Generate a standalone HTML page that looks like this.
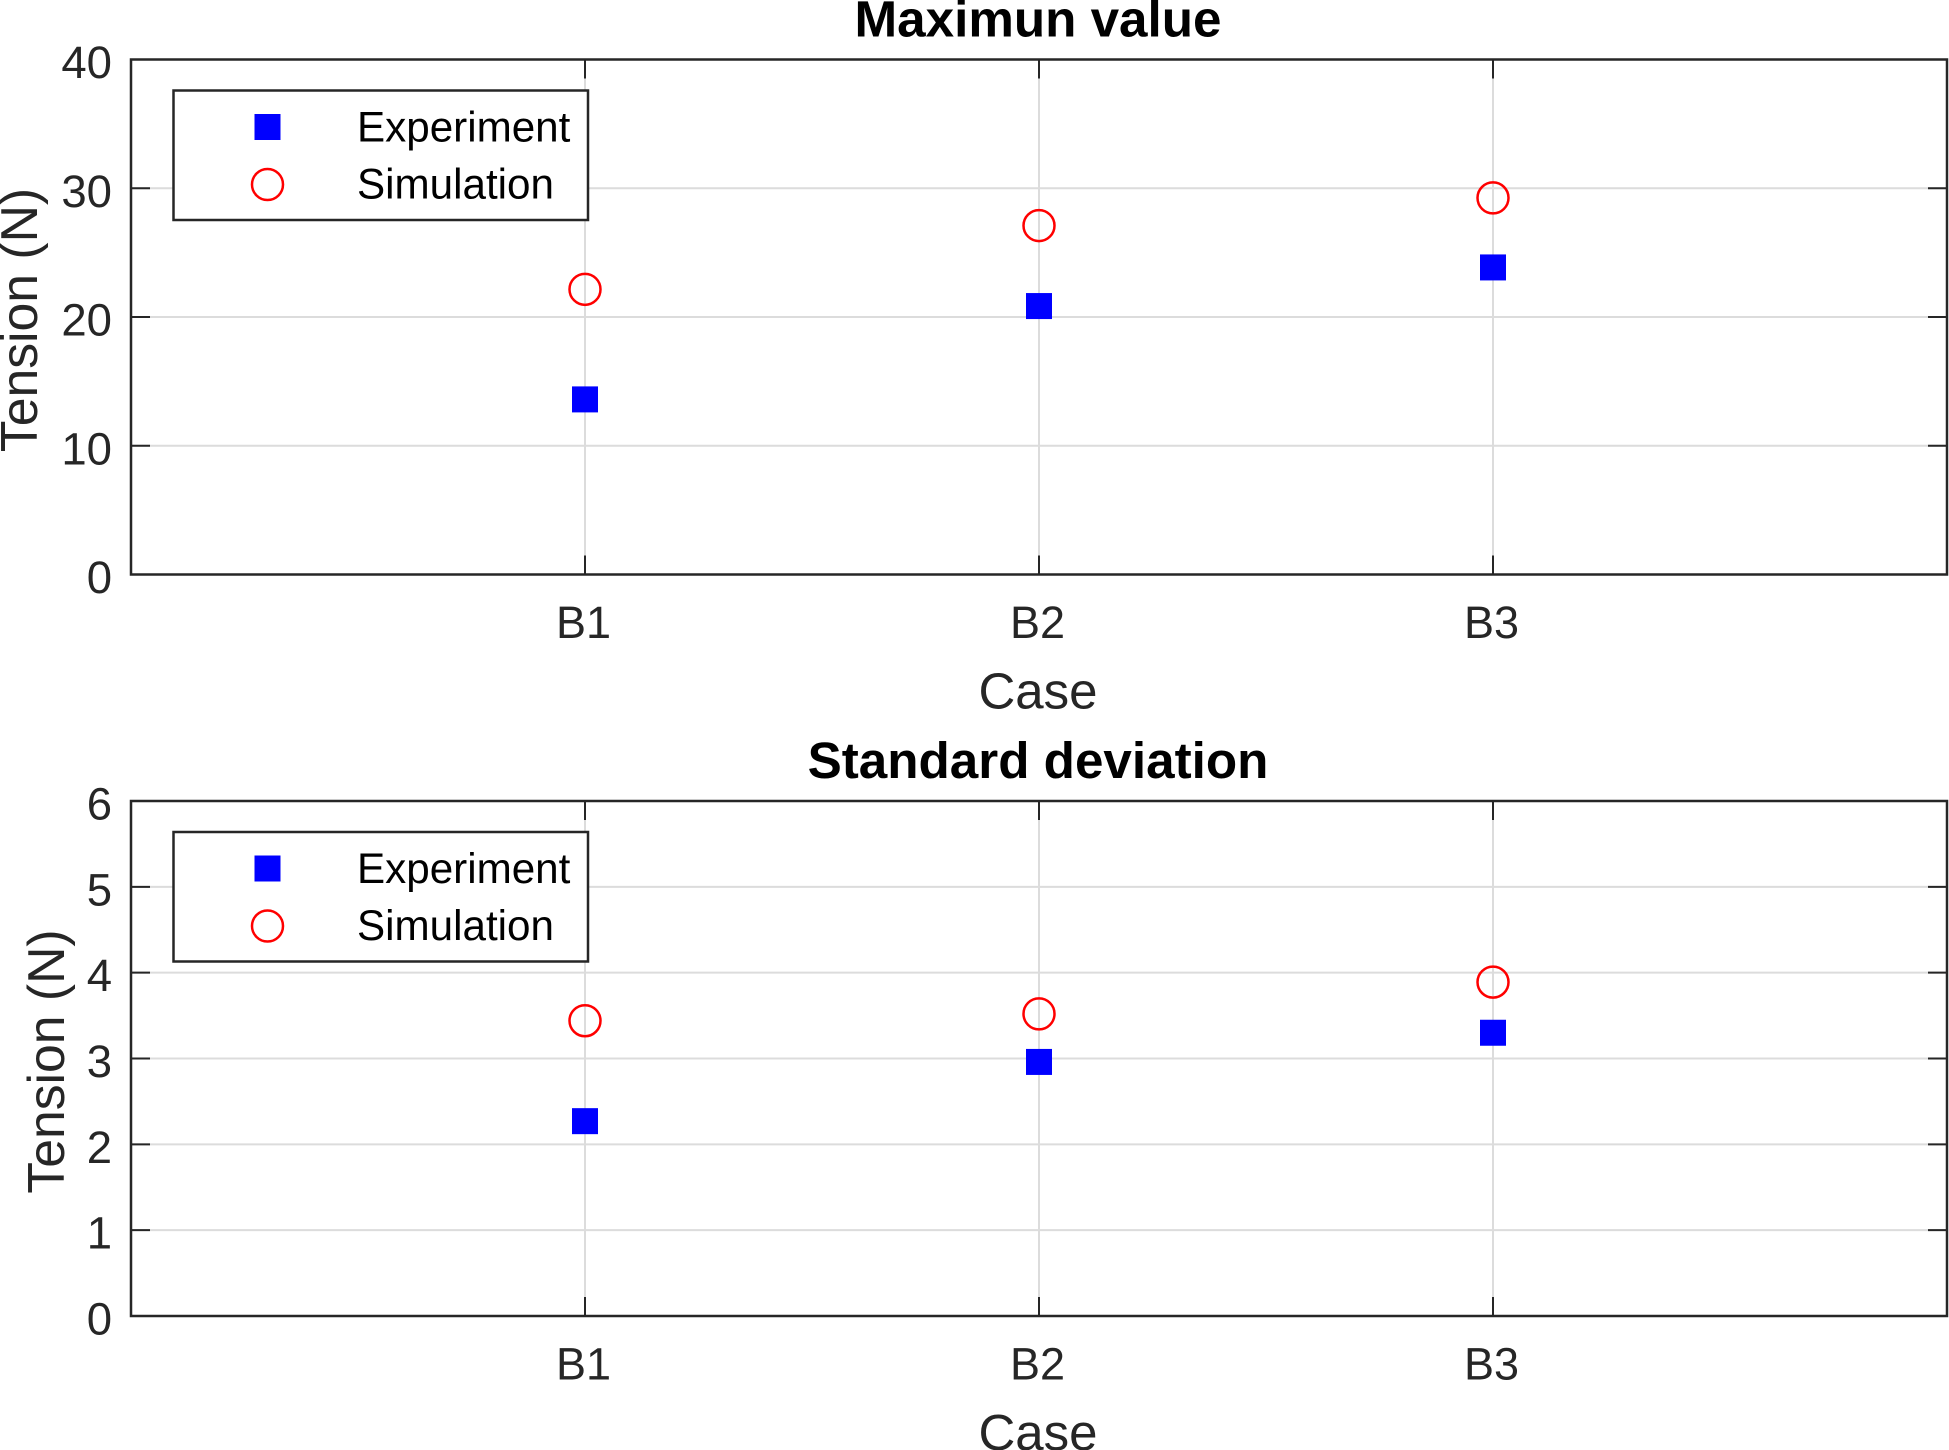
<!DOCTYPE html>
<html lang="en">
<head>
<meta charset="utf-8">
<title>Tension chart</title>
<style>
html,body{margin:0;padding:0;background:#fff;}
svg{display:block;font-family:"Liberation Sans",Arial,sans-serif;}
</style>
</head>
<body>
<svg id="figure" width="1949" height="1450" viewBox="0 0 1949 1450" xmlns="http://www.w3.org/2000/svg"></svg>
<script>
const categories = ["B1", "B2", "B3"];
const maxExperiment = [13.6, 20.85, 23.85];
const maxSimulation = [22.15, 27.1, 29.25];
const stdExperiment = [2.27, 2.96, 3.30];
const stdSimulation = [3.44, 3.52, 3.89];
const maxTicks = [0, 10, 20, 30, 40];
const stdTicks = [0, 1, 2, 3, 4, 5, 6];
const maxTitle = "Maximun value";
const stdTitle = "Standard deviation";
const legendLabels = ["Experiment", "Simulation"];

const NS = "http://www.w3.org/2000/svg";
const svg = document.getElementById("figure");
const LEFT = 131, RIGHT = 1947, PLOT_H = 515;

function make(parent, tag, attrs, text) {
  const el = document.createElementNS(NS, tag);
  for (const k in attrs) el.setAttribute(k, attrs[k]);
  if (text !== undefined) el.textContent = text;
  parent.appendChild(el);
  return el;
}
function xScale(i) {
  return LEFT + (RIGHT - LEFT) * (i + 1) / (categories.length + 1);
}

function drawPanel(key, top, ticks, expVals, simVals, title, ylabelX) {
  const bottom = top + PLOT_H;
  const yMax = ticks[ticks.length - 1];
  const yScale = v => bottom - (v / yMax) * PLOT_H;
  const g = make(svg, "g", {});
  
  

  ticks.forEach(t => {
    if (t === 0 || t === yMax) return;
    const line = make(g, "line", {x1: LEFT, x2: RIGHT, y1: yScale(t), y2: yScale(t), stroke: "#dcdcdc", "stroke-width": 2});
    
    
  });
  categories.forEach((c, i) => {
    const line = make(g, "line", {x1: xScale(i), x2: xScale(i), y1: top, y2: bottom, stroke: "#dcdcdc", "stroke-width": 2});
    
    
  });

  ticks.forEach(t => {
    const y = yScale(t);
    const a = make(g, "line", {x1: LEFT, x2: LEFT + 19, y1: y, y2: y, stroke: "#262626", "stroke-width": 2});
    
    
    const b = make(g, "line", {x1: RIGHT - 19, x2: RIGHT, y1: y, y2: y, stroke: "#262626", "stroke-width": 2});
    
    
    const lab = make(g, "text", {x: 112, y: y + 18.5, "text-anchor": "end", "font-size": 45.5, fill: "#262626"}, String(t));
    
    
  });

  categories.forEach((c, i) => {
    const x = xScale(i);
    const a = make(g, "line", {x1: x, x2: x, y1: bottom - 19, y2: bottom, stroke: "#262626", "stroke-width": 2});
    
    
    const b = make(g, "line", {x1: x, x2: x, y1: top, y2: top + 19, stroke: "#262626", "stroke-width": 2});
    
    
    const lab = make(g, "text", {x: x - 1.5, y: bottom + 63.5, "text-anchor": "middle", "font-size": 45, fill: "#262626"}, c);
    
    
  });

  const frame = make(g, "rect", {x: LEFT, y: top, width: RIGHT - LEFT, height: PLOT_H, fill: "none", stroke: "#262626", "stroke-width": 2.5});
  
  

  categories.forEach((c, i) => {
    const sq = make(g, "rect", {x: xScale(i) - 13, y: yScale(expVals[i]) - 13, width: 26, height: 26, fill: "#0000ff"});
    
    
    const ci = make(g, "circle", {cx: xScale(i), cy: yScale(simVals[i]), r: 15.5, fill: "none", stroke: "#ff0000", "stroke-width": 2.5});
    
    
  });

  const tt = make(g, "text", {x: 1038, y: top - 23, "text-anchor": "middle", "font-size": 51.2, "font-weight": "bold", fill: "#000"}, title);
  
  
  const xl = make(g, "text", {x: 1038, y: bottom + 134, "text-anchor": "middle", "font-size": 51, fill: "#262626"}, "Case");
  
  
  const cy = top + PLOT_H / 2 + 3;
  const yl = make(g, "text", {x: ylabelX, y: cy, "text-anchor": "middle", "font-size": 51.7, fill: "#262626", transform: "rotate(-90 " + ylabelX + " " + cy + ")"}, "Tension (N)");
  
  

  const leg = make(g, "g", {});
  
  
  const box = make(leg, "rect", {x: 173.5, y: top + 31, width: 414.5, height: 129.5, fill: "#fff", stroke: "#262626", "stroke-width": 2.5});
  
  
  const sw1 = make(leg, "rect", {x: 254.5, y: top + 54.5, width: 26, height: 26, fill: "#0000ff"});
  
  
  const sw2 = make(leg, "circle", {cx: 267.5, cy: top + 125, r: 15.5, fill: "none", stroke: "#ff0000", "stroke-width": 2.5});
  
  
  const lt1 = make(leg, "text", {x: 357, y: top + 82, "font-size": 42.2, fill: "#000"}, legendLabels[0]);
  
  
  const lt2 = make(leg, "text", {x: 357, y: top + 139, "font-size": 42.2, fill: "#000"}, legendLabels[1]);
  
  
}

drawPanel("max", 59.5, maxTicks, maxExperiment, maxSimulation, maxTitle, 37);
drawPanel("std", 801, stdTicks, stdExperiment, stdSimulation, stdTitle, 64);
</script>
</body>
</html>
